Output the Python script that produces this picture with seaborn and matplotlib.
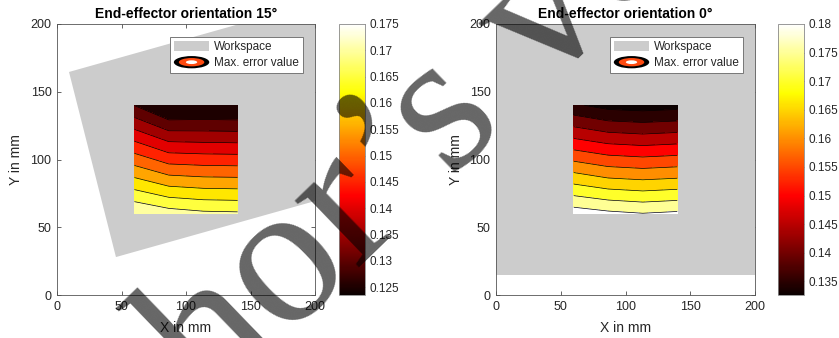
import numpy as np
import pandas as pd
import seaborn as sns
import matplotlib
matplotlib.use("Agg")
import matplotlib.pyplot as plt
from matplotlib.patches import Ellipse, Patch
from matplotlib.legend_handler import HandlerBase
from matplotlib.colors import Normalize
from matplotlib.cm import ScalarMappable

# ---------------- data ----------------
grid_x = [60.0, 86.67, 113.33, 140.0]
grid_y = [60.0, 86.67, 113.33, 140.0]

# rows follow grid_y, columns follow grid_x
err_15 = [
    [0.1700, 0.1674, 0.1661, 0.1658],
    [0.1550, 0.1511, 0.1503, 0.1501],
    [0.1401, 0.1349, 0.1346, 0.1344],
    [0.1249, 0.1183, 0.1188, 0.1186],
]
err_0 = [
    [0.1778, 0.1762, 0.1752, 0.1760],
    [0.1622, 0.1598, 0.1590, 0.1597],
    [0.1463, 0.1440, 0.1432, 0.1439],
    [0.1308, 0.1282, 0.1276, 0.1282],
]

levels_15 = [0.125, 0.13, 0.135, 0.14, 0.145, 0.15, 0.155, 0.16, 0.165, 0.17, 0.175]
levels_0 = [0.13, 0.135, 0.14, 0.145, 0.15, 0.155, 0.16, 0.165, 0.17, 0.175, 0.18]

cbar_lim_15 = (0.1235, 0.175)
cbar_lim_0 = (0.1326, 0.18)
cbar_ticks_15 = [0.125, 0.13, 0.135, 0.14, 0.145, 0.15, 0.155, 0.16, 0.165, 0.17, 0.175]
cbar_ticks_0 = [0.135, 0.14, 0.145, 0.15, 0.155, 0.16, 0.165, 0.17, 0.175, 0.18]

# workspace outlines (mm)
ws15_x = [9.3, 45.7, 287.2, 250.8]
ws15_y = [164.6, 28.0, 92.7, 229.3]
ws0_x = [-10.0, 210.0, 210.0, -10.0]
ws0_y = [15.0, 15.0, 210.0, 210.0]

titles = ["End-effector orientation 15°", "End-effector orientation 0°"]
axis_ticks = [0, 50, 100, 150, 200]
legend_labels = ["Workspace", "Max. error value"]
watermark = "Author\u2019s version"

# ---------------- style ----------------
sns.set_theme(style="white")
plt.rcParams["font.family"] = ["Liberation Sans", "DejaVu Sans"]
plt.rcParams["axes.linewidth"] = 0.6

TXT = "#262626"
GRAY = "#cccccc"


class RingMarker:
    pass


class RingHandler(HandlerBase):
    def create_artists(self, legend, orig_handle, xdescent, ydescent,
                       width, height, fontsize, trans):
        cx = width / 2 - xdescent
        cy = height / 2 - ydescent
        arts = []
        for fw, fh, c in [(1.0, 1.25, "black"), (0.72, 0.85, "#ff4a10"), (0.32, 0.38, "white")]:
            e = Ellipse((cx, cy), width * fw, height * fh, facecolor=c,
                        edgecolor="none", transform=trans)
            arts.append(e)
        return arts


fig = plt.figure(figsize=(8.39, 3.38), dpi=100)
W, H = 839.0, 338.0

panels = [
    dict(ax=(57, 24, 258, 271), cax=(339, 24, 26, 271), err=err_15, lev=levels_15,
         lim=cbar_lim_15, ticks=cbar_ticks_15, wx=ws15_x, wy=ws15_y, title=titles[0]),
    dict(ax=(496, 24, 259, 271), cax=(778, 24, 26, 271), err=err_0, lev=levels_0,
         lim=cbar_lim_0, ticks=cbar_ticks_0, wx=ws0_x, wy=ws0_y, title=titles[1]),
]

cmap = plt.get_cmap("hot")

for p in panels:
    l, t, w, h = p["ax"]
    ax = fig.add_axes([l / W, 1 - (t + h) / H, w / W, h / H])
    l, t, w, h = p["cax"]
    cax = fig.add_axes([l / W, 1 - (t + h) / H, w / W, h / H])

    ax.set_facecolor("white")
    ax.fill(p["wx"], p["wy"], color=GRAY, lw=0, zorder=1)

    X, Y = np.meshgrid(grid_x, grid_y)
    Z = np.array(p["err"])
    norm = Normalize(vmin=p["lim"][0], vmax=p["lim"][1])
    fill_levels = [Z.min() - 0.01] + list(p["lev"]) + [Z.max() + 0.01]
    band_colors = [cmap(norm(min(u, p["lim"][1]))) for u in fill_levels[1:]]
    ax.contourf(X, Y, Z, levels=fill_levels, colors=band_colors, zorder=2)
    ax.contour(X, Y, Z, levels=p["lev"], colors="black", linewidths=0.5, zorder=3)

    ax.set_xlim(0, 200)
    ax.set_ylim(0, 200)
    ax.set_xticks(axis_ticks)
    ax.set_yticks(axis_ticks)
    ax.tick_params(direction="in", length=3, width=0.5, top=True, right=True,
                   labelsize=9, colors=TXT, pad=4, bottom=True, left=True)
    for s in ax.spines.values():
        s.set_color("#555555")
        s.set_linewidth(0.6)
    ax.set_xlabel("X in mm", fontsize=10, color=TXT, labelpad=6)
    ax.set_ylabel("Y in mm", fontsize=10, color=TXT, labelpad=5)
    ax.set_title(p["title"], fontsize=10, fontweight="bold", color="black", pad=4)

    handles = [Patch(facecolor=GRAY, edgecolor="none"), RingMarker()]
    leg = ax.legend(handles, legend_labels, loc="upper right",
                    bbox_to_anchor=(1 - 12 / 258, 1 - 13 / 271), borderaxespad=0,
                    fontsize=8.5, handlelength=3.0, handleheight=0.9,
                    handletextpad=0.4, borderpad=0.35, labelspacing=0.35,
                    fancybox=False, framealpha=1, edgecolor="#777777",
                    handler_map={RingMarker: RingHandler()})
    leg.get_frame().set_linewidth(0.7)
    for txt in leg.get_texts():
        txt.set_color(TXT)
    leg.set_zorder(5)

    sm = ScalarMappable(norm=norm, cmap=cmap)
    cb = fig.colorbar(sm, cax=cax, ticks=p["ticks"])
    cb.ax.set_yticklabels(["%g" % v for v in p["ticks"]])
    cb.ax.tick_params(direction="in", length=3, width=0.5, labelsize=8.5,
                      colors=TXT, pad=3)
    cb.outline.set_edgecolor("#888888")
    cb.outline.set_linewidth(0.6)

# diagonal watermark
fig.text(448 / W, 1 - 114 / H, watermark, fontsize=145, family="Liberation Serif",
         rotation=44, rotation_mode="anchor", ha="center", va="center",
         color=(0, 0, 0, 0.6), zorder=10)

fig.savefig("out.png", dpi=100, facecolor="white")
